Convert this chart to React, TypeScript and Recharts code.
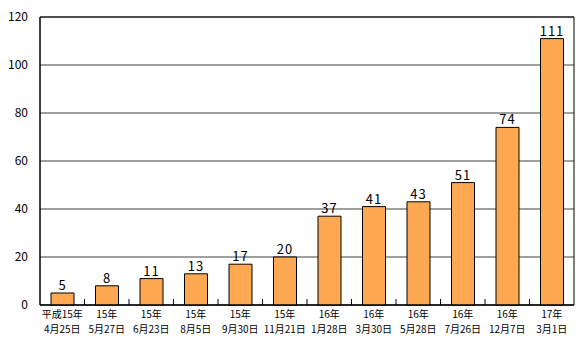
import { BarChart, Bar, XAxis, YAxis, CartesianGrid, LabelList, ReferenceArea } from 'recharts'

const yearLabels = ['平成15年', '15年', '15年', '15年', '15年', '15年', '16年', '16年', '16年', '16年', '16年', '17年']
const dateLabels = ['4月25日', '5月27日', '6月23日', '8月5日', '9月30日', '11月21日', '1月28日', '3月30日', '5月28日', '7月26日', '12月7日', '3月1日']
const counts = [5, 8, 11, 13, 17, 20, 37, 41, 43, 51, 74, 111]
const yTicks = [0, 20, 40, 60, 80, 100, 120]
const boundaryTicks = [1, 2, 3, 4, 5, 6, 7, 8, 9, 10, 11]

const data = counts.map((count, i) => ({ key: i, pos: i + 0.5, year: yearLabels[i], date: dateLabels[i], count }))

const font = '"Noto Sans CJK JP", sans-serif'

// two-line date label under each bar
function DateTick(props: any) {
  const { x, y, payload } = props
  const item = data[payload.value]
  return (
    <g>
      <text x={x} y={y + 5} textAnchor="middle" fontFamily={font} fontSize={10} fill="#000">{item.year}</text>
      <text x={x} y={y + 20} textAnchor="middle" fontFamily={font} fontSize={10} fill="#000">{item.date}</text>
    </g>
  )
}

export default function App() {
  return (
    <div style={{ position: 'absolute', left: 0, top: 0, background: '#fff' }}>
      <BarChart width={585} height={343} data={data} margin={{ top: 17, right: 11, left: 0, bottom: 0 }} barSize={23}>
        <CartesianGrid vertical={false} stroke="#404040" />
        <XAxis dataKey="key" xAxisId="cat" height={38} tickLine={false} axisLine={{ stroke: '#000' }} tick={<DateTick />} interval={0} />
        <XAxis xAxisId="bounds" dataKey="pos" type="number" domain={[0, 12]} ticks={boundaryTicks} interval={0} allowDataOverflow mirror height={1} tick={() => <g />} tickSize={6} axisLine={false} tickLine={{ stroke: '#000' }} />
        <YAxis domain={[0, 120]} ticks={yTicks} width={40} tickLine={false} axisLine={{ stroke: '#000' }} tick={{ fontFamily: font, fontSize: 12, fill: '#000' }} tickMargin={6} />
        <ReferenceArea xAxisId="cat" y1={0} y2={120} fill="none" stroke="#000" />
        <Bar xAxisId="cat" dataKey="count" fill="#FFA852" stroke="#000" strokeWidth={1} isAnimationActive={false}>
          <LabelList dataKey="count" position="top" offset={3} fontFamily={font} fontSize={13} fill="#000" letterSpacing={1} />
        </Bar>
      </BarChart>
    </div>
  )
}
